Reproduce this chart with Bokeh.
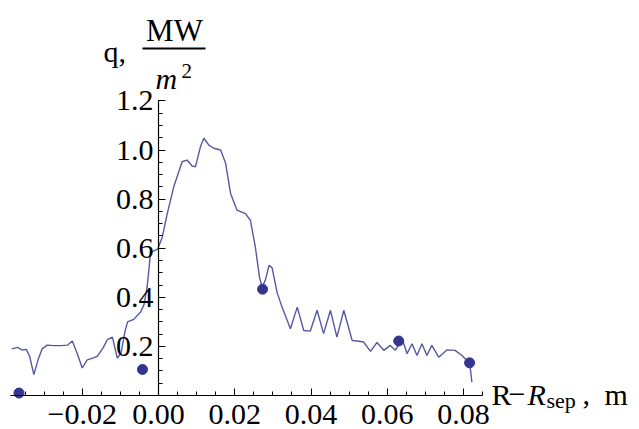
from bokeh.plotting import figure
from bokeh.models import Label, FixedTicker, Arrow
from bokeh.embed import file_html
from bokeh.resources import INLINE

# ---- data ----
x_curve = [-0.0385, -0.0370, -0.0357, -0.0347, -0.0338, -0.0327, -0.0315, -0.0305, -0.0292, -0.0275,
           -0.0255, -0.0239, -0.0226, -0.0213, -0.0200, -0.0187, -0.0172, -0.0160, -0.0145, -0.0134,
           -0.0121, -0.0108, -0.0098, -0.0088, -0.0081, -0.0065, -0.0047, -0.0038, -0.0030, -0.0024,
           -0.0021, -0.0010, -0.0002, 0.0010, 0.0023, 0.0040, 0.0062, 0.0075, 0.0088, 0.0097,
           0.0110, 0.0119, 0.0132, 0.0145, 0.0163, 0.0176, 0.0189, 0.0206, 0.0228, 0.0241,
           0.0254, 0.0265, 0.0272, 0.0280, 0.0290, 0.0298, 0.0311, 0.0324, 0.0346, 0.0364,
           0.0381, 0.0398, 0.0416, 0.0433, 0.0451, 0.0468, 0.0486, 0.0508, 0.0521, 0.0538,
           0.0556, 0.0573, 0.0591, 0.0608, 0.0621, 0.0639, 0.0652, 0.0665, 0.0678, 0.0691,
           0.0704, 0.0717, 0.0735, 0.0757, 0.0778, 0.0796, 0.0813, 0.0818, 0.0822]
q_curve = [0.190, 0.196, 0.185, 0.188, 0.160, 0.085, 0.150, 0.190, 0.205, 0.203,
           0.203, 0.205, 0.222, 0.170, 0.112, 0.145, 0.152, 0.160, 0.195, 0.228,
           0.238, 0.152, 0.175, 0.260, 0.300, 0.310, 0.340, 0.370, 0.440, 0.530,
           0.585, 0.590, 0.597, 0.646, 0.741, 0.850, 0.952, 0.959, 0.935, 0.932,
           1.013, 1.048, 1.020, 1.007, 1.000, 0.946, 0.823, 0.755, 0.741, 0.714,
           0.605, 0.480, 0.442, 0.469, 0.530, 0.520, 0.420, 0.360, 0.272, 0.360,
           0.265, 0.262, 0.347, 0.252, 0.347, 0.238, 0.347, 0.224, 0.222, 0.218,
           0.180, 0.216, 0.184, 0.204, 0.184, 0.231, 0.170, 0.211, 0.163, 0.211,
           0.163, 0.204, 0.156, 0.186, 0.184, 0.163, 0.136, 0.109, 0.054]

x_pts = [-0.0366, -0.0042, 0.0273, 0.0630, 0.0816]
q_pts = [0.010, 0.106, 0.433, 0.222, 0.133]

x_ticks = [-0.02, 0.0, 0.02, 0.04, 0.06, 0.08]
x_tick_labels = ["\u22120.02", "0.00", "0.02", "0.04", "0.06", "0.08"]
x_minor = [round(-0.035 + 0.005 * i, 3) for i in range(25)]
y_ticks = [0.2, 0.4, 0.6, 0.8, 1.0, 1.2]
y_tick_labels = ["0.2", "0.4", "0.6", "0.8", "1.0", "1.2"]
y_minor = [round(0.05 * i, 2) for i in range(1, 25)]

# ---- geometry ----
W, H = 639, 429
SX = 3812.5
SY = 245.5
X0_PX, Y0_PX = 158, 395
AX_LEFT_PX, AX_RIGHT_PX = 10, 482
BASE_FIX = -10  # baseline correction for labels


def dx(px):
    return (px - X0_PX) / SX


def dy(py):
    return (Y0_PX - py) / SY


p = figure(width=W, height=H, output_backend="svg", toolbar_location=None,
           x_range=(dx(0), dx(W)), y_range=(dy(H), dy(0)),
           min_border_left=0, min_border_right=0,
           min_border_top=0, min_border_bottom=0)
p.outline_line_color = None
p.grid.visible = False
p.background_fill_color = "white"
p.border_fill_color = "white"

FONT = "Liberation Serif"

for ax in (p.xaxis[0], p.yaxis[0]):
    ax.fixed_location = 0
    ax.axis_line_color = "black"
    ax.axis_line_width = 1.2
    ax.major_tick_in = 7
    ax.major_tick_out = 0
    ax.minor_tick_in = 4
    ax.minor_tick_out = 0
    ax.major_tick_line_color = "black"
    ax.minor_tick_line_color = "black"
    ax.major_label_text_font = FONT
    ax.major_label_text_font_size = "30px"
    ax.major_label_text_color = "black"

p.xaxis[0].ticker = FixedTicker(ticks=x_ticks, minor_ticks=x_minor)
p.xaxis[0].major_label_overrides = {t: l for t, l in zip(x_ticks, x_tick_labels)}
p.xaxis[0].major_label_standoff = 9
p.xaxis[0].bounds = (dx(AX_LEFT_PX), dx(AX_RIGHT_PX))

p.yaxis[0].ticker = FixedTicker(ticks=y_ticks, minor_ticks=y_minor)
p.yaxis[0].major_label_overrides = {t: l for t, l in zip(y_ticks, y_tick_labels)}
p.yaxis[0].major_label_standoff = 5
p.yaxis[0].bounds = (0, 1.2)

LINE_COLOR = "#5858a2"
DOT_COLOR = "#35358f"

p.line(x_curve, q_curve, line_color=LINE_COLOR, line_width=1.4)
p.scatter(x_pts, q_pts, size=10, marker="circle", fill_color=DOT_COLOR, line_color=DOT_COLOR)


def lab(text, px, py, size="30px", style="normal", align="left"):
    p.add_layout(Label(x=dx(px), y=dy(py + BASE_FIX), text=text, text_font=FONT,
                       text_font_size=size, text_font_style=style, text_color="black",
                       text_align=align, text_baseline="alphabetic"))


# y-axis label: q, MW / m^2
lab("q,", 103, 61)
lab("MW", 174, 40, size="31px", align="center")
p.add_layout(Arrow(x_start=dx(142), y_start=dy(48), x_end=dx(205), y_end=dy(48),
                   start=None, end=None, line_color="black", line_width=2))
lab("m", 155, 88, style="italic")
lab("2", 181, 80, size="21px")

# x-axis label: R - R_sep, m
lab("R", 491, 404)
lab("\u2212", 508, 404)
lab("R", 527, 404, style="italic")
lab("sep", 546, 410, size="22px")
lab(",", 582, 404)
lab("m", 604, 404)

open("out.html", "w").write(file_html(p, INLINE))
